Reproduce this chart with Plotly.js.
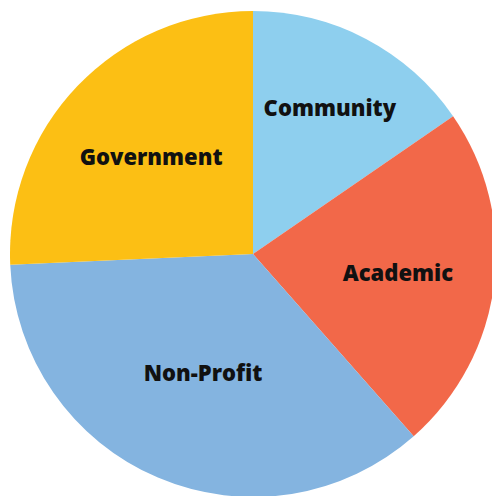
<!DOCTYPE html>
<html>
<head>
<meta charset="utf-8">
<script src="https://cdn.plot.ly/plotly-3.0.1.min.js"></script>
<style>
html,body{margin:0;padding:0;overflow:hidden;background:#fff;}
#chart{width:496px;height:497px;}
</style>
</head>
<body>
<div id="chart"></div>
<script>
var categories = ["Community", "Academic", "Non-Profit", "Government"];
var shares = [15.4, 23.1, 35.8, 25.7];
var colors = ["#8ecfee", "#f26849", "#84b4e0", "#fcbf14"];

var trace = {
  type: "pie",
  labels: categories,
  values: shares,
  sort: false,
  direction: "clockwise",
  rotation: 0,
  marker: {colors: colors, line: {width: 0}},
  textinfo: "label",
  textposition: "inside",
  insidetextorientation: "horizontal",
  textfont: {family: "'Open Sans', sans-serif", size: 22, color: "#111111", weight: 800},
  hoverinfo: "none",
  showlegend: false
};

var layout = {
  width: 496,
  height: 497,
  margin: {l: 10, t: 11, r: 0, b: 0, pad: 0},
  paper_bgcolor: "#ffffff",
  showlegend: false
};

Plotly.newPlot("chart", [trace], layout, {displayModeBar: false, staticPlot: true});
</script>
</body>
</html>
